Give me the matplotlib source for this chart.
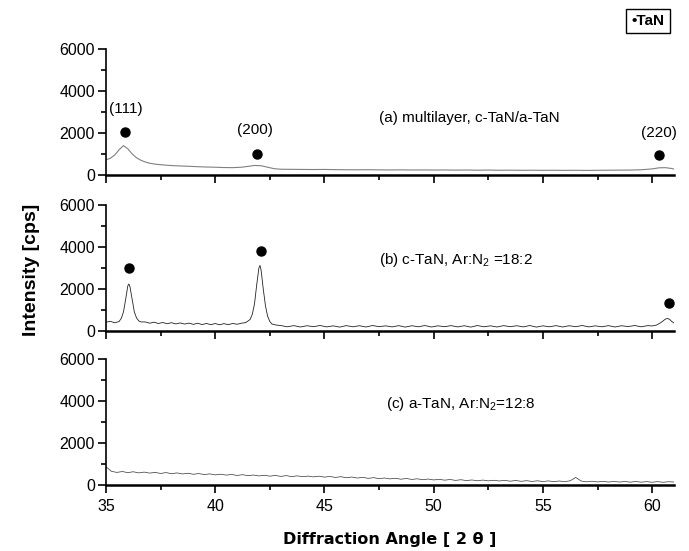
import numpy as np
import matplotlib
matplotlib.use("Agg")
import matplotlib.pyplot as plt
from matplotlib.ticker import MultipleLocator

plt.rcParams['font.family'] = ['Liberation Sans', 'DejaVu Sans']
plt.rcParams['mathtext.fontset'] = 'custom'
plt.rcParams['mathtext.rm'] = 'Liberation Sans'
plt.rcParams['mathtext.it'] = 'Liberation Sans'

# ---- data ----
xa = [35.0,35.2,35.4,35.6,35.8,36.0,36.2,36.4,36.6,36.8,
      37.0,37.3,37.6,38.0,38.4,38.8,39.2,39.6,40.0,40.4,
      40.8,41.2,41.5,41.8,42.1,42.4,42.7,43.0,43.5,44,
      44.5,45,45.5,46,46.5,47,47.5,48,48.5,49,
      49.5,50,50.5,51,51.5,52,52.5,53,53.5,54,
      54.5,55,55.5,56,56.5,57,57.5,58,58.5,59,
      59.5,60.0,60.3,60.6,60.9,61.0]
ya = [720,800,950,1200,1400,1250,1000,820,700,620,
      560,510,480,450,430,415,395,380,370,355,
      350,370,410,455,440,370,300,275,270,265,
      260,265,255,250,248,252,245,240,246,238,
      242,236,240,232,238,228,235,226,230,224,
      228,222,226,220,225,218,224,228,232,236,
      250,290,340,350,310,280]

xb_peak1 = [35.0,35.2,35.4,35.6,35.7,35.8,35.9,36.0,36.05,36.1,36.2,36.3,36.4,36.5,36.6]
yb_peak1 = [420,460,390,450,600,900,1500,2150,2240,2100,1500,900,620,480,430]
xb_base1 = [36.8,37.0,37.2,37.4,37.6,37.8,38.0,38.2,38.4,38.6,38.8,39.0,
            39.2,39.4,39.6,39.8,40.0,40.2,40.4,40.6,40.8,41.0,41.2]
yb_base1 = [430,370,420,355,405,345,395,335,385,330,375,315,
            370,305,360,300,355,295,350,300,360,320,370]
xb_peak2 = [41.4,41.6,41.7,41.8,41.9,42.0,42.05,42.1,42.2,42.3,42.4,42.5,42.6,42.8]
yb_peak2 = [400,550,800,1300,2200,3000,3120,2900,2000,1200,700,450,330,280]
xb_base2 = list(np.linspace(43.0, 59.8, 57))
yb_base2 = [260,200,255,190,250,205,260,195,245,185,
            255,200,250,190,260,205,245,195,255,185,
            250,200,260,190,245,205,255,195,250,185,
            260,200,245,190,255,205,250,195,260,185,
            245,200,255,190,250,205,260,195,245,200,
            255,190,250,210,260,200,255]
xb_peak3 = [60.0,60.2,60.4,60.6,60.7,60.8,60.9,61.0]
yb_peak3 = [240,280,400,560,600,550,450,380]
xb = xb_peak1 + xb_base1 + xb_peak2 + xb_base2 + xb_peak3
yb = yb_peak1 + yb_base1 + yb_peak2 + yb_base2 + yb_peak3

xc = list(np.linspace(35.0, 61.0, 105))
yc = [870,650,600,640,590,630,575,615,565,600,
      550,590,540,575,525,560,510,545,495,530,
      480,515,470,500,455,490,445,475,430,465,
      420,455,410,445,400,435,395,425,385,420,
      375,405,360,395,345,380,330,365,315,350,
      300,335,290,320,275,310,265,295,250,285,
      240,270,230,260,220,250,210,240,200,235,
      195,225,190,220,180,215,175,205,170,200,
      165,195,160,190,160,200,360,190,150,180,
      145,175,140,170,140,165,135,165,135,160,
      130,160,130,155,140]

dots_a_x = [35.87, 41.9, 60.3]
dots_a_y = [2030, 1020, 940]
hkl_labels = ["(111)", "(200)", "(220)"]
hkl_x = [35.9, 41.84, 60.3]
hkl_y = [3140, 2160, 2000]
dots_b_x = [36.07, 42.1, 60.75]
dots_b_y = [3000, 3800, 1330]

panel_texts = ["(a) multilayer, c-TaN/a-TaN",
               "(b) c-TaN, Ar:N$_2$ =18:2",
               "(c) a-TaN, Ar:N$_2$=12:8"]
panel_text_x = [47.5, 47.5, 47.8]
panel_text_y = [2700, 3360, 3850]

xticks = [35, 40, 45, 50, 55, 60]
yticks = [0, 2000, 4000, 6000]

# ---- figure ----
fig = plt.figure(figsize=(6.89, 5.51), dpi=100)
left, width, height = 0.1538, 0.8244, 0.2287
bottoms = [0.6824, 0.3993, 0.1198]
axes = [fig.add_axes([left, b, width, height]) for b in bottoms]

series = [(xa, ya, '#808080', 0.8), (xb, yb, '#222222', 0.6), (xc, yc, '#333333', 0.5)]
for i, (ax, (x, y, col, lw)) in enumerate(zip(axes, series)):
    ax.plot(x, y, color=col, lw=lw)
    ax.set_xlim(35, 61)
    ax.set_ylim(0, 6000)
    for s in ['top', 'right']:
        ax.spines[s].set_visible(False)
    ax.spines['left'].set_linewidth(1.2)
    ax.spines['bottom'].set_linewidth(1.8)
    ax.set_xticks(xticks)
    ax.xaxis.set_minor_locator(MultipleLocator(2.5))
    ax.set_yticks(yticks)
    ax.yaxis.set_minor_locator(MultipleLocator(1000))
    ax.tick_params(axis='both', which='major', direction='out', length=6, width=1.2,
                   labelsize=11.5, pad=2)
    ax.tick_params(axis='x', which='major', pad=4)
    ax.tick_params(axis='both', which='minor', direction='out', length=3.5, width=1.2)
    if i < 2:
        ax.tick_params(axis='x', labelbottom=False)
    ax.text(panel_text_x[i], panel_text_y[i], panel_texts[i], fontsize=11, va='center', ha='left')

axes[0].plot(dots_a_x, dots_a_y, 'o', color='black', ms=6.5, clip_on=False)
for lab, hx, hy in zip(hkl_labels, hkl_x, hkl_y):
    axes[0].text(hx, hy, lab, fontsize=11, ha='center', va='center', clip_on=False)
axes[1].plot(dots_b_x, dots_b_y, 'o', color='black', ms=6.5, clip_on=False)

fig.text(0.045, 0.51, "Intensity [cps]", rotation=90, fontsize=14, fontweight='bold',
         ha='center', va='center')
fig.text(0.566, 0.02, "Diffraction Angle [ 2 \u03b8 ]", fontsize=11.5, fontweight='bold',
         ha='center', va='center', family=['DejaVu Sans'])
fig.text(0.94, 0.962, "\u2022TaN", fontsize=11, fontweight='bold', ha='center', va='center',
         bbox=dict(boxstyle='square,pad=0.35', fc='white', ec='black', lw=1.0))

fig.savefig("out.png", dpi=100)
